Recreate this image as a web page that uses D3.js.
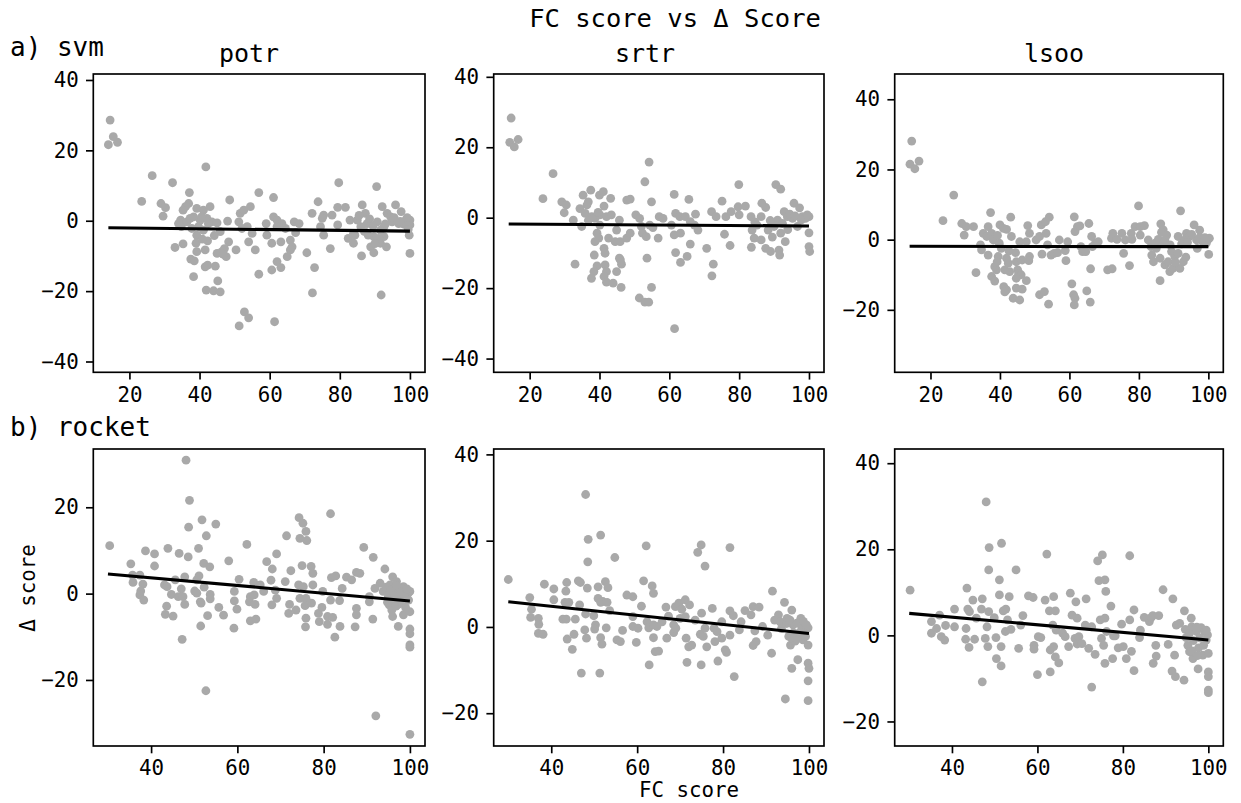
<!DOCTYPE html>
<html><head><meta charset="utf-8">
<script src="https://cdn.jsdelivr.net/npm/d3@7"></script>
<style>body{margin:0;background:#fff} text{font-family:"DejaVu Sans Mono",monospace}</style>
</head><body><svg id="c" width="1241" height="803"></svg>
<script>
// ---------- data (FC score, Δ score) ----------
const svmPotr = [[14.5,28.6],[15.4,23.9],[16.6,22.3],[14.0,21.6],[26.5,12.8],[32.3,10.8],[23.5,5.5],[41.8,15.3],[29,4.9],[30.3,3.7],[29.6,1.3],[37.1,8],[36.9,4.9],[36,4],[35.3,3],[34.6,0.2],[34.8,-1.7],[35.3,-6.6],[33,-7.6],[39.2,3.5],[41.1,3],[43,4],[38.3,1.1],[40.2,0.2],[42.1,0.7],[43.5,-0.3],[45,-0.6],[45.9,-3.1],[39.2,-4.1],[39,-6.4],[42.3,-5.7],[39.2,-8.8],[41.6,-8.3],[37.5,-10.9],[38.5,-11.4],[38.3,-15.9],[41.6,-13.1],[42.3,-12.6],[44.5,-12.9],[45.2,-17.1],[41.9,-19.7],[44,-19.9],[45.9,-20.2],[45,-9.3],[46.4,-8.8],[47.6,-10.2],[48.3,-6],[50.4,-8.3],[48,-0.1],[48.6,5.9],[51.2,-0.3],[51.6,2.1],[52.6,3],[54.5,4],[56.9,8],[53.6,-1.7],[55,-3.6],[54,-6],[55.9,-8.3],[56.9,-15.2],[52.8,-25.9],[54,-27.6],[51.3,-29.9],[61.1,6.6],[61.1,1.1],[59,-0.8],[62.1,0.2],[63.5,-0.8],[59.2,-4.1],[60.6,-6.4],[63.2,-6],[65.9,-5.5],[66.4,-7.4],[65.9,-8.3],[65,-10.2],[62.1,-11.6],[63.2,-13.3],[60.6,-14],[61.4,-28.7],[67,-0.3],[68.4,-0.8],[67.4,-3.4],[70.6,-9.1],[72.1,2.1],[73.8,5.4],[74.5,-1.7],[75.4,1.6],[75.4,-4.1],[77.3,-7.9],[72.8,-13.3],[72.2,-20.5],[79.7,10.8],[79.4,3.8],[81.6,3.8],[77.8,1.6],[79.4,-1.2],[82.9,0.2],[83.9,-3.6],[83.9,-6.4],[86.4,4.5],[87.3,2.1],[85,0.2],[86,-1.7],[87.8,-0.8],[86.2,-10],[88.8,-7.4],[89.7,-9.1],[90.5,9.7],[92.1,4],[90.7,-0.3],[91.6,-2.7],[92.6,-4.5],[91.6,-6.4],[93.3,-7.4],[89.7,-4.5],[91.8,-21.1],[93.5,2.1],[95.9,4.5],[97.5,2.6],[94.9,-0.3],[96.8,-0.8],[98.8,0.2],[100,0.2],[100,-1.2],[99.8,-4.1],[100,-9.3],[98.3,-1],[94.5,1.1],[34,-0.8],[36.4,-0.3],[37.3,0.7],[40.6,1.1],[42.5,-0.8],[39.7,-1.7],[41.1,-2.7],[47.1,-7.9],[46.7,-9.5],[52.1,-2.2],[62.1,-1.7],[64.5,-2.2],[75,0.7],[82.4,-5],[84.3,-4.1],[88.1,-4.1],[91.1,-5],[92.6,-1.7],[85.5,1.5],[88.5,0.5],[89.5,-1.5],[93,-0.9],[95.5,0.9],[97.2,-0.2],[99.2,0.9],[99.5,-2.5],[90,-6.5],[87,-3],[37.8,-2.2],[40.8,-5.2],[44.2,-4.2]];

const svmSrtr = [[14.7,28.3],[14.3,21.4],[15.6,20.1],[16.7,22.2],[26.7,12.5],[23.8,5.4],[29.2,4.5],[30.5,3.6],[29.9,1.4],[33,-13.2],[32.5,-0.7],[34.9,-2.5],[35.3,6.4],[37.5,7.8],[36.8,4.5],[36.4,3.6],[34.4,2.6],[35.9,1.2],[37.8,0.3],[40,6.4],[41.1,7.4],[41.3,3.3],[43.2,5.5],[38.7,-0.2],[40.1,0.8],[42,0.3],[43.4,0.8],[40.1,-2.1],[39.3,-4.4],[39.8,-5.8],[38.7,-6.8],[42.6,-5.8],[44.5,-6.8],[45.9,-6.8],[44.9,-3.5],[45.7,-0.7],[47.8,-5.8],[48.8,-4.4],[47.8,5],[48.8,5.3],[38.5,-10.6],[41.3,-8.7],[41.6,-10.1],[39.3,-13.7],[38.4,-15.3],[37.7,-17.2],[41.6,-13.4],[42,-15.3],[41.3,-16.7],[42,-18.3],[43.9,-18.6],[44.9,-15.3],[46,-12],[46.3,-13.2],[45.7,-11.5],[46.2,-19.8],[50.4,0.8],[51.5,-0.2],[52,-2.5],[52.3,-4.4],[53,10.2],[54.2,15.8],[54.9,4.5],[54.4,-2.1],[53.4,-5.4],[55.3,-2.8],[56.8,-5.8],[53.6,-11.5],[54.9,-19.8],[51.4,-22.8],[53,-24],[54.1,-24],[57.1,0.3],[58.2,-0.2],[60.6,-2.1],[61.4,6.6],[61.8,1.2],[63,0.3],[61.4,-4.9],[63.2,-4.4],[61.8,-9.9],[63.2,-12.7],[65.1,-11],[61.5,-31.5],[65.6,5.2],[64.6,0.3],[66,-1.1],[67.5,1],[67.2,-2.1],[68.2,-3.5],[66,-7.5],[70.7,-8.7],[72.6,-13.2],[72.2,-16.5],[72.1,1.7],[73.4,0.3],[75.1,4.7],[75.8,-4.7],[77.4,-7.9],[76.2,0.3],[77.7,1.7],[79.9,9.4],[79.7,3.1],[80,0.8],[81.8,3.3],[83.4,0.3],[83.7,-3.5],[84.3,-5.8],[83.5,-8.4],[85.1,-2.1],[86.3,-6.3],[86.5,4.1],[87.6,2.9],[86.3,0.3],[88.3,-3.5],[87.6,-8.7],[89,-9.6],[90.5,9.4],[91.9,8.1],[91,-0.7],[90,-2.5],[91.9,-4.4],[91.4,-9.2],[91.6,-10.6],[93.2,-6.8],[92.9,1.7],[93.8,0.3],[95.7,4.1],[97.3,2.8],[96.7,-2.5],[95.3,-0.2],[98.1,0.3],[100,0.3],[100,-4.3],[100,-8.2],[100.2,-9.6],[99,-0.2],[84.5,-1.2],[88.9,-0.8],[92.4,-1.6],[94.5,1],[96,0.5],[97.8,-0.6],[99.5,0.8],[89.5,-5.5],[93.9,-3.4],[36.8,-0.8],[39.6,1.5]];

const svmLsoo = [[14.6,28.1],[14.1,21.5],[15.5,20.2],[16.7,22.4],[26.7,12.7],[23.6,5.4],[29,4.6],[30.3,3.7],[29.7,1.3],[32.4,3.7],[33.1,-9.4],[34.4,-1.5],[34.7,-2.9],[35.2,1.8],[36.6,3.7],[37.3,7.7],[36.2,0.9],[36.6,-4.4],[37.6,1.8],[38.1,-0.1],[38.5,-7.7],[37.6,-10.5],[38.5,-11.8],[39,-8.6],[40,4.2],[41,3.2],[41.9,2.9],[43.1,6.4],[43.3,0.9],[39.8,-1],[40.4,-2.5],[39.5,-4.8],[39.2,-6.3],[41.9,-5.3],[42.4,-6.7],[41.4,-8.6],[42.8,-9.1],[41.1,-13.4],[41.9,-14.3],[41.4,-14.9],[43.8,-16.7],[45.7,-17.2],[44.5,-3.7],[44.7,-6.3],[46.4,-5.8],[45.1,-8.6],[45.4,-9.6],[46.1,-10],[44.7,-11],[44.7,-13.8],[46.4,-14.1],[47.6,-11.7],[45.7,-0.6],[48,4],[48.5,1.8],[48.5,-4.8],[48.3,-6],[47.6,-0.6],[50.4,-0.1],[51.4,0.9],[51.9,4.2],[53.1,5.1],[54.2,6.4],[53.3,1.8],[52.1,-4.1],[53.7,-1.5],[54.7,-4.4],[55.6,-3.9],[57.1,-0.1],[56.6,-3.7],[51.4,-15.7],[52.8,-14.8],[54,-18.4],[58.8,-3.1],[59,-6],[59.5,-0.6],[61.4,6.5],[61.6,2.3],[62.3,3.7],[63,3.9],[63.3,-2],[63.8,-3.4],[64.7,-3.4],[65.6,4.6],[66.4,0.9],[66.6,-2],[67.5,-1],[68.3,-0.6],[66.1,-8.3],[60.7,-12.6],[61.2,-15.7],[61.6,-16.7],[61.4,-18.6],[65,-14.6],[66,-17.8],[71,-8.6],[72.3,-8.3],[72.1,0.4],[72.5,1.8],[73.7,0.1],[75.1,1.8],[75.6,-3.9],[76.1,-0.1],[77.3,-7.4],[77.8,1.8],[78,0.1],[78.9,3.7],[79.9,9.6],[80.4,3.7],[81.6,4],[80.4,1.3],[82.7,-0.1],[83.5,-2],[83.7,-4.4],[84.2,-6.3],[84.7,-1],[85.6,0.1],[86.3,4.5],[87,2.8],[86.5,2.1],[86.1,-11.7],[86.1,-5.3],[87,-1],[87.5,-0.1],[88,1.3],[87.5,-7.2],[88.4,-6.3],[88.9,-9.1],[89.8,-8.2],[89.4,-3.4],[90.3,-4.8],[91.3,-3.9],[91.8,-8.2],[92.8,-6.3],[92,8.2],[91.3,0.9],[93.2,-0.1],[93.7,1.8],[94.6,0.9],[95.9,4.2],[97.5,2.7],[96.8,-2.5],[96.6,-0.1],[98.4,-0.6],[99.8,-0.1],[100.3,0.4],[100.1,-4.2],[99.4,-1],[85,-2.5],[89,-1.5],[90.5,-6.5],[92.3,-1.2],[94,-0.8],[95.2,1.5],[97.5,0.6],[99,0.6],[93.5,-5],[39.3,1.2],[42.6,-3.2]];

const rocketPotr = [[30.4,11.1],[48.1,30.9],[48.9,21.6],[48.7,15.4],[51.8,17.1],[52.8,13.4],[55,16.1],[51,10.5],[48.6,8.5],[46.5,9.3],[43.9,10.5],[40.8,9.2],[38.7,9.9],[35.3,6.9],[40.8,6.4],[35.7,4.3],[37.4,4.3],[35.8,2.6],[38.1,2.2],[37.6,0.6],[37.4,-0.3],[38.3,-1.5],[43.1,2],[43.7,1.6],[45.6,3.2],[47,1.1],[44.7,-0.2],[46.3,-0.7],[47.4,-0.7],[47.8,3.9],[47.8,-2.5],[43.6,-2.9],[43.3,-4.8],[45.1,-5.2],[47.2,-10.6],[50.6,3.2],[51.1,4.1],[50.1,0.6],[50.6,0.1],[52.3,1.5],[51.4,-1.9],[51.6,-2.2],[52.2,7],[53.6,6.2],[53.7,-0.2],[53.7,-1.2],[53.1,-5.1],[51.5,-7.5],[52.7,-22.5],[55.7,-3.2],[56.8,-5],[58,7.6],[59.3,0.5],[59.3,-1.7],[59.9,-3.6],[59.2,-8],[60.4,3.3],[62.2,11.4],[63,-0.7],[62.8,-1.9],[63.8,2.6],[63.9,-0.3],[64.1,-2.5],[63,-6.3],[64.3,-5.9],[65.3,2],[66.8,7.4],[68.1,5.7],[69.1,9.2],[67.8,3.1],[68.8,0.8],[69.1,-1.1],[68,-2.6],[66.1,0.5],[71.4,13.4],[72.4,5.3],[71.1,2.8],[72.1,-2.5],[71.9,-4.6],[73.6,-3.8],[74.3,17.6],[75.2,16.3],[75.9,14.4],[76.1,12.3],[74.5,12.8],[75,6.5],[77.1,6.3],[77.5,4.7],[74.2,2],[75.3,1.6],[74.5,-1.1],[75.9,-1.1],[75.7,-2.8],[77.5,2],[77.2,-2.2],[75.9,-5.7],[75.8,-7.7],[79,-6.5],[78.8,-4.6],[79.6,-3.2],[79.8,0.5],[81.6,18.5],[81.8,3.7],[82.8,4.1],[81.6,-1.5],[80.9,-5.3],[82.1,-5.5],[80.9,-7.1],[82.6,-10.1],[83.8,-7.6],[83.7,-1.6],[84.3,1.2],[85.3,3.8],[86.5,3.2],[87.6,4.9],[88.4,4.7],[87.6,-3.4],[87.6,-4.9],[87.3,-7.7],[89.3,10.7],[91.5,8.4],[90.6,-1.9],[90.6,-0.7],[91.4,-5.9],[92.1,-28.3],[91.9,1.2],[93.1,2.4],[94.2,5.7],[93.8,0.5],[95,-0.7],[95.2,-2.6],[95.8,-3.8],[96,-5.3],[96,3.9],[95.4,2],[96.5,1.2],[97.3,0.5],[98.5,1.6],[98.1,-1.2],[97.3,-2.5],[98.5,-4.9],[97.3,-7.6],[99.6,0.1],[100,0.5],[100,-4.2],[100,-8.2],[100,-9.3],[100,-11.9],[100,-12.4],[100,-32.6],[96.9,2.8],[96.1,-1.1],[94.5,1.5],[95.5,0.8],[96.5,-0.5],[97,1.8],[97.8,0.2],[98.8,-0.3],[99.3,1.1],[99.7,-1.5],[95.7,-1.6],[96.8,-2.9],[98.2,-2],[99,-3.2],[94.8,-2]];

const rocketSrtr = [[30,11],[35,6.8],[35.4,4.1],[35.2,2.2],[37,2],[37.1,0.6],[37,-1.5],[38.1,-1.7],[38.4,9.9],[40.6,8.8],[40.6,6.3],[42.7,1.8],[43.5,1.8],[43.4,8.3],[43.6,10.3],[43.2,5.7],[44.1,5.7],[43.7,-2.8],[44.9,-5.2],[45.3,-1.7],[45.6,1.8],[46.3,10.7],[46.8,10.3],[46.6,5.1],[48,30.7],[48.6,20.3],[48.5,15.1],[48.4,9],[48,3],[47.8,-0.7],[48.2,-2.6],[47,-10.7],[49.9,2.6],[50.3,0.5],[50.1,-0.5],[50.9,9.3],[50.9,6.6],[51.5,5.7],[51.5,21.3],[52.6,10.5],[53.2,9.1],[52,5.9],[53,5.7],[53.6,3.8],[52.8,-0.2],[51.5,-2.5],[51.8,-4],[51.3,-10.7],[54.8,16.1],[55.3,-3],[56.1,-3.4],[56.6,-0.8],[57.6,7.4],[59,7],[59,2.4],[59,0.1],[60.2,-0.3],[59.8,-3.6],[61,4.8],[61.5,10.7],[62.1,18.8],[63.5,9.5],[63.8,7.8],[62.3,1.2],[62.7,-0.2],[63.8,0.5],[64.6,0.1],[63.8,-2.5],[64.2,-5.7],[65,-5.6],[62.8,-8.8],[65.8,1.2],[66.9,-2.6],[67.3,2.5],[66.7,4.6],[68.5,0.5],[68.5,-1.3],[69,-0.3],[68.9,4.7],[69.7,5.5],[70,2],[70.4,4.1],[71.2,6.3],[72.2,5.1],[71.2,2.4],[71.4,-2.6],[72,-4.6],[72.7,-4.2],[71.6,-8.2],[73.5,1.6],[74.1,17.3],[74.9,19],[75.8,14.1],[74.7,-1.7],[75.4,-2.2],[75.8,-0.3],[75,3.2],[76.2,-4.6],[74.9,-8.8],[77.5,4.3],[77.9,-0.3],[78.1,-3.4],[78.6,-1.1],[78.8,-7.9],[79.7,1.2],[79.7,-2.6],[80.5,-5.3],[80.8,-5.9],[81.6,18.4],[81.6,3.7],[82.4,2.6],[81.6,-1.9],[82.6,-11.5],[83.8,-0.7],[84.2,1.2],[85.1,3.8],[86.5,2.8],[87,4.7],[88.4,4.6],[87,-4.3],[87.7,-3.4],[87.4,-0.9],[89.2,0.1],[90.4,-1.9],[91.3,-6.1],[91.5,8.3],[92,1.6],[92.9,2.8],[93.3,1.2],[94.3,5.7],[94.5,-16.7],[94.9,2],[95.3,-2.2],[95.7,-4.2],[96,-9.6],[96,3.9],[96.3,0.5],[97.4,-7.6],[97.5,-2.6],[98.1,2],[98.3,0.1],[99,-1.1],[99.8,-0.2],[99.8,-4.2],[99.8,-8.4],[100,-9.6],[99.8,-12.5],[99.8,-17.1],[98.6,-3],[94.8,0.8],[95.6,1.6],[96.4,-1.4],[97.2,0.9],[97.9,-1.2],[98.7,1.3],[99.4,0.5],[96.8,-3.3],[95.9,-2.5],[99.2,-2.2],[93.6,-0.4]];

const rocketLsoo = [[30.2,10.5],[35.2,3.2],[35.2,0.5],[36.4,1.6],[37.1,4.7],[37.5,-0.3],[38.3,-1.1],[38.5,2.3],[40.6,2],[40.6,6.1],[43.3,1.6],[43.5,11],[43.7,6.1],[44.1,5.5],[43.2,-0.9],[44,-2.8],[44.9,8.2],[45.3,-0.9],[45.7,4],[47.1,8.5],[46.9,6.1],[48,31],[48.7,20.4],[48.6,15.2],[48.6,5.5],[48.2,2],[47.8,-0.7],[48.4,-2.6],[47.1,-10.8],[49.9,4.1],[50.3,-0.5],[50.4,-5.4],[51.5,-7.1],[51.5,-2.6],[51.1,9.4],[51.1,12.9],[51.6,21.4],[52,5.7],[52.6,6.1],[53.4,9],[53,3.6],[52.5,0.9],[53.8,1.4],[55,15.2],[55.6,-3],[56.6,4.6],[56.1,2.4],[57.9,9.2],[59,8.8],[59.2,-2.3],[59.2,-3.2],[60,-9.1],[60.2,-0.3],[60.8,-0.5],[61.8,8.2],[62.2,18.9],[63,-3.4],[63.8,-2.6],[62.8,5.7],[64.2,5.7],[63.8,9],[63.6,2.4],[64.2,-5],[65,-6.4],[63,-8.5],[64.4,1.2],[65.9,0.5],[66.5,-0.3],[67.3,-2.6],[67.7,9.8],[68.1,4.7],[69,7.8],[69.3,4],[68.8,-0.7],[69.3,-2],[69.7,-0.3],[70.4,-1.9],[71.2,2.4],[71.4,8.5],[72,-3],[72.7,2],[73.5,-4.4],[72.7,-12],[74.1,17.3],[75.2,18.7],[74.4,12.7],[75.8,12.9],[76,10.2],[74.7,3.6],[75,-0.7],[75.8,4],[75.5,-2.3],[75.8,-6.5],[76.2,0.9],[77.2,6.8],[77.8,-0.1],[78.2,-0.1],[77.6,-5.4],[78.9,-2.9],[79.7,2.6],[80.1,-2.6],[80.8,-5.4],[81.6,18.5],[81.6,3.6],[82,-3.7],[82.6,5.9],[82.6,-8.2],[83.9,-0.5],[84.1,1.2],[85,4.2],[86.2,3.2],[86.6,4.1],[87,4.6],[88.4,4.6],[87.1,-6.5],[87.7,-2.3],[87.8,-4.8],[89.4,10.6],[90.6,-2.1],[91.5,-8.3],[91.7,8.5],[92.1,-4.6],[92.3,-9.6],[92.5,2.4],[93.3,2.8],[94.3,-10.4],[94.4,5.7],[94.8,-0.5],[95.2,-2.3],[95.6,-3.8],[96,4],[96.1,2],[96.4,-5.4],[97.2,0.9],[97.6,-7.8],[97.7,-2.9],[98.3,1.8],[98.7,-4.6],[99.1,0.9],[99.8,0.1],[100,-4.2],[100,-8.5],[100,-9.6],[100,-12.7],[100,-13.3],[99.5,-1.1],[94.6,1.4],[95.5,0.3],[96.5,-1.2],[97.3,1.9],[98,-0.6],[98.9,-2.3],[99.5,1.2],[96.2,-3.6],[97.4,-4.7]];

// linear fit end points
const fitSvmPotr = [[14,-2.0],[100,-2.96]];
const fitSvmSrtr = [[14,-1.8],[100,-2.35]];
const fitSvmLsoo = [[14,-1.9],[100,-2.0]];
const fitRocketPotr = [[30,4.56],[100,-1.7]];
const fitRocketSrtr = [[30,5.85],[100,-1.52]];
const fitRocketLsoo = [[30,5.12],[100,-1.07]];

// tick labels
const xTicksSvm = [20,40,60,80,100];
const xTicksRocket = [40,60,80,100];
const yTicksSvmPotr = [-40,-20,0,20,40];
const yTicksSvmSrtr = [-40,-20,0,20,40];
const yTicksSvmLsoo = [-20,0,20,40];
const yTicksRocketPotr = [-20,0,20];
const yTicksRocketSrtr = [-20,0,20,40];
const yTicksRocketLsoo = [-20,0,20,40];

const datasets = ["potr","srtr","lsoo"];

// ---------- layout ----------
const svg = d3.select('#c');
svg.append('rect').attr('width',1241).attr('height',803).attr('fill','#fff');

const colL = [93.3, 493.7, 894.7], colR = [425, 824, 1223.3];
const rowT = [74, 449], rowB = [372.3, 746];
const titleX = [249, 645, 1054];
const panels = [
  {d: svmPotr, fit: fitSvmPotr, xd:[9.7,104.3], yd:[-43.07,41.7], xt:xTicksSvm, yt:yTicksSvmPotr, c:0, r:0},
  {d: svmSrtr, fit: fitSvmSrtr, xd:[9.7,104.3], yd:[-43.9,40.8], xt:xTicksSvm, yt:yTicksSvmSrtr, c:1, r:0},
  {d: svmLsoo, fit: fitSvmLsoo, xd:[9.7,104.3], yd:[-37.8,47.2], xt:xTicksSvm, yt:yTicksSvmLsoo, c:2, r:0},
  {d: rocketPotr, fit: fitRocketPotr, xd:[26.6,103.5], yd:[-35.3,33.5], xt:xTicksRocket, yt:yTicksRocketPotr, c:0, r:1},
  {d: rocketSrtr, fit: fitRocketSrtr, xd:[26.6,103.5], yd:[-27.6,41.25], xt:xTicksRocket, yt:yTicksRocketSrtr, c:1, r:1},
  {d: rocketLsoo, fit: fitRocketLsoo, xd:[26.6,103.5], yd:[-25.7,43.3], xt:xTicksRocket, yt:yTicksRocketLsoo, c:2, r:1},
];

const FS = 20.8, TL = 7.3, LW = 1.67;
const fmt = d3.format("d");

panels.forEach(p => {
  const x0 = colL[p.c], x1 = colR[p.c], y0 = rowT[p.r], y1 = rowB[p.r];
  const xs = d3.scaleLinear().domain(p.xd).range([x0, x1]);
  const ys = d3.scaleLinear().domain(p.yd).range([y1, y0]);
  const g = svg.append('g');

  g.append('g').selectAll('circle').data(p.d).join('circle')
    .attr('cx', d => xs(d[0])).attr('cy', d => ys(d[1])).attr('r', 4.4)
    .attr('fill', '#a9a9a9');

  g.append('path').datum(p.fit)
    .attr('d', d3.line().x(d => xs(d[0])).y(d => ys(d[1])))
    .attr('stroke', '#000').attr('stroke-width', 3.1).attr('fill', 'none');

  const ax = g.append('g').attr('transform', `translate(0,${y1})`)
    .call(d3.axisBottom(xs).tickValues(p.xt).tickFormat(fmt).tickSize(TL).tickPadding(7.3));
  const ay = g.append('g').attr('transform', `translate(${x0},0)`)
    .call(d3.axisLeft(ys).tickValues(p.yt).tickFormat(fmt).tickSize(TL).tickPadding(7.3));
  [ax, ay].forEach(a => {
    a.select('.domain').remove();
    a.attr('font-family', '"DejaVu Sans Mono", monospace').attr('font-size', FS);
    a.selectAll('line').attr('stroke', '#000').attr('stroke-width', LW);
    a.selectAll('text').attr('fill', '#000');
  });

  g.append('rect').attr('x', x0).attr('y', y0).attr('width', x1 - x0).attr('height', y1 - y0)
    .attr('fill', 'none').attr('stroke', '#000').attr('stroke-width', LW);

  if (p.r === 0) {
    g.append('text').attr('x', titleX[p.c]).attr('y', 61.5).attr('text-anchor', 'middle')
      .attr('font-size', 25).text(datasets[p.c]);
  }
});

svg.append('text').attr('x', 675).attr('y', 27).attr('text-anchor', 'middle')
  .attr('font-size', 25.5).text('FC score vs Δ Score');
svg.append('text').attr('x', 10).attr('y', 56).attr('font-size', 26).text('a) svm');
svg.append('text').attr('x', 10).attr('y', 436).attr('font-size', 26).text('b) rocket');
svg.append('text').attr('transform', 'translate(35,588) rotate(-90)').attr('text-anchor', 'middle')
  .attr('font-size', FS).text('Δ score');
svg.append('text').attr('x', 689).attr('y', 797).attr('text-anchor', 'middle')
  .attr('font-size', FS).text('FC score');
</script></body></html>
